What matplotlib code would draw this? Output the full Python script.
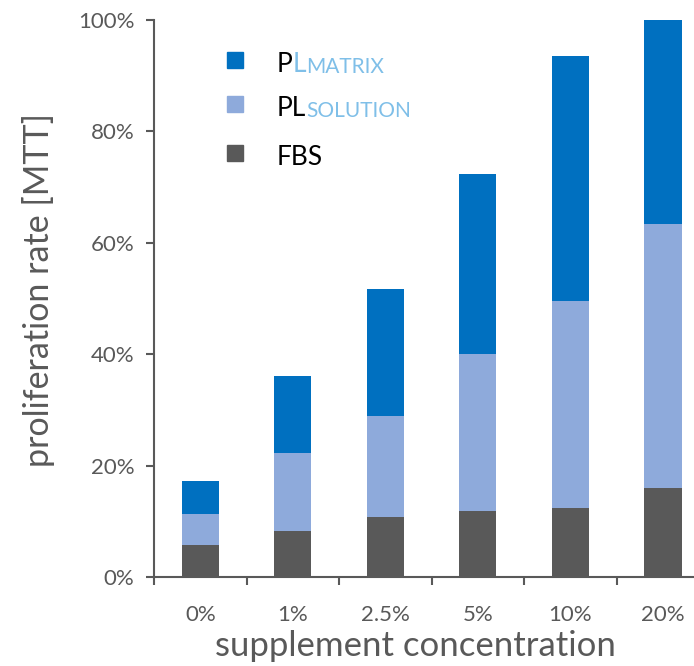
import numpy as np
import matplotlib.pyplot as plt
from matplotlib.patches import Rectangle

plt.rcParams['font.family'] = ['Lato', 'DejaVu Sans']

# data (percent)
categories = ['0%', '1%', '2.5%', '5%', '10%', '20%']
fbs = [5.8, 8.3, 10.8, 11.8, 12.4, 15.9]
pl_solution = [5.6, 13.9, 18.1, 28.3, 37.2, 47.4]   # stacked on FBS
pl_matrix = [5.8, 13.9, 22.8, 32.3, 43.9, 36.7]     # stacked on top

c_fbs = '#595959'
c_sol = '#8eaadb'
c_mat = '#0070c0'
c_txt = '#595959'
c_sub = '#7fbfe8'

fig = plt.figure(figsize=(6.94, 6.66), dpi=100)
ax = fig.add_axes([0.222, 0.1336, 0.80, 0.8364])

x = np.arange(len(categories))
w = 0.4
fbs = np.array(fbs)
sol = np.array(pl_solution)
mat = np.array(pl_matrix)
ax.bar(x, fbs, w, color=c_fbs)
ax.bar(x, sol, w, bottom=fbs, color=c_sol)
ax.bar(x, mat, w, bottom=fbs + sol, color=c_mat)

ax.set_xlim(-0.5, -0.5 + 540 / 91)
ax.set_ylim(0, 100)
ax.set_yticks(np.arange(0, 101, 20))
ax.set_yticklabels([f'{v}%' for v in range(0, 101, 20)])
ax.set_xticks(x)
ax.set_xticklabels(categories)
ax.set_xticks(np.arange(-0.5, len(categories), 1), minor=True)
ax.tick_params(axis='x', which='major', length=0, pad=20)
ax.tick_params(axis='x', which='minor', length=6, width=1.5, color=c_txt, direction='out')
ax.tick_params(axis='y', length=6, width=1.5, color=c_txt, direction='out', pad=8)
ax.tick_params(labelsize=16, labelcolor=c_txt)

for s in ['top', 'right']:
    ax.spines[s].set_visible(False)
for s in ['left', 'bottom']:
    ax.spines[s].set_color(c_txt)
    ax.spines[s].set_linewidth(1.5)

ax.set_xlabel('supplement concentration', fontsize=25, color=c_txt)
ax.set_ylabel('proliferation rate [MTT]', fontsize=24.5, color=c_txt)
ax.xaxis.set_label_coords(0.47, -0.095)
ax.yaxis.set_label_coords(-0.178, 0.515)

# legend built by hand (mixed-colour labels)
tr = ax.transAxes
sq = 16 / 540
sqh = 16 / 557
entries = [
    (c_mat, [('P', 'black', 19), ('L', c_sub, 19), ('MATRIX', c_sub, 15)], 0.928),
    (c_sol, [('PL', 'black', 19), ('SOLUTION', c_sub, 15)], 0.849),
    (c_fbs, [('FBS', 'black', 19)], 0.762),
]
for col, parts, yc in entries:
    ax.add_patch(Rectangle((0.131, yc - sqh / 2), sq, sqh, transform=tr,
                           color=col, clip_on=False))
    prev = None
    for txt, tc, fs in parts:
        if prev is None:
            prev = ax.text(0.221, yc - 0.0215, txt, transform=tr, color=tc,
                           fontsize=fs, va='baseline', ha='left')
        else:
            prev = ax.annotate(txt, xy=(1, 0), xycoords=prev, color=tc,
                               fontsize=fs, va='bottom', ha='left')

fig.savefig('out.png', dpi=100)
